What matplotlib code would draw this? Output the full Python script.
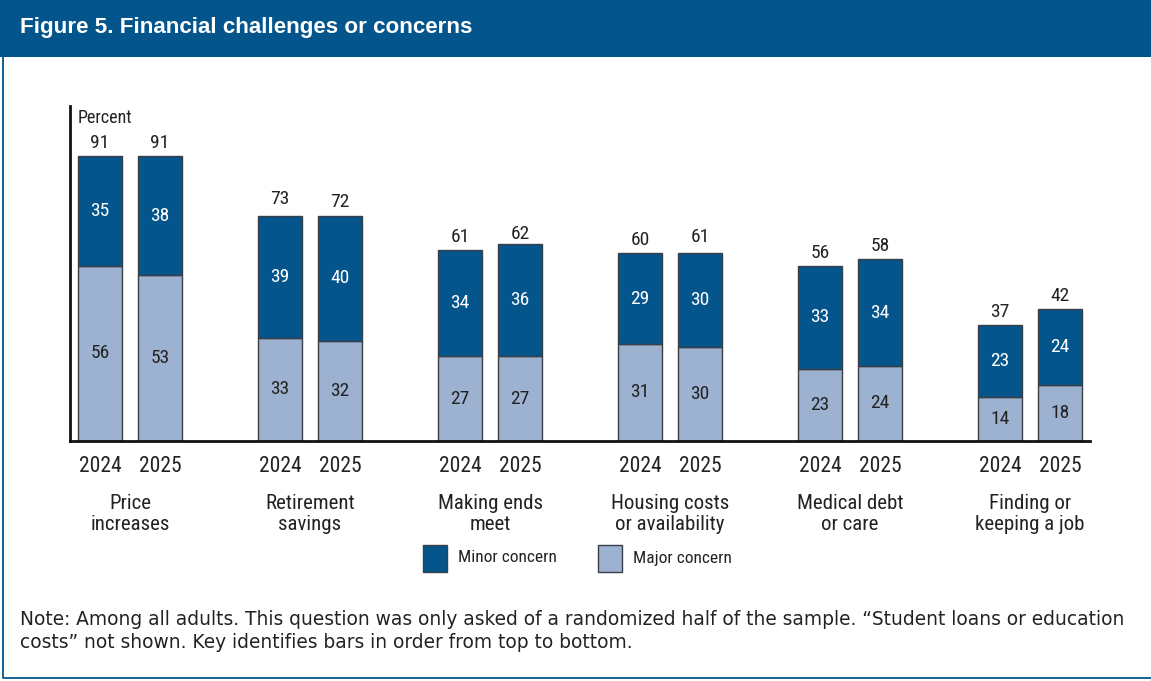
import numpy as np
import matplotlib
matplotlib.use("Agg")
import matplotlib.pyplot as plt
from matplotlib.patches import Rectangle
from matplotlib.lines import Line2D

plt.rcParams['font.family'] = ['Roboto Condensed', 'DejaVu Sans']

# ---- data ----
categories = ['Price\nincreases', 'Retirement\nsavings', 'Making ends\nmeet',
              'Housing costs\nor availability', 'Medical debt\nor care',
              'Finding or\nkeeping a job']
years = ['2024', '2025']
major_2024 = [56, 33, 27, 31, 23, 14]
major_2025 = [53, 32, 27, 30, 24, 18]
minor_2024 = [35, 39, 34, 29, 33, 23]
minor_2025 = [38, 40, 36, 30, 34, 24]
total_2024 = [91, 73, 61, 60, 56, 37]
total_2025 = [91, 72, 62, 61, 58, 42]

DARK = '#03558C'
LIGHT = '#9DB1D1'
EDGE = '#3a3f47'
TXT = '#222222'

W, H = 1151, 681
fig = plt.figure(figsize=(W / 100, H / 100), dpi=100)

# header band + frame (left and bottom edges)
fig.patches.append(Rectangle((0, 1 - 57 / H), 1, 57 / H, transform=fig.transFigure,
                             facecolor=DARK, edgecolor='none', zorder=0))
fig.lines.append(Line2D([3 / W, 3 / W, 1], [1 - 57 / H, 3 / H, 3 / H],
                        transform=fig.transFigure, color=DARK, lw=1.3))
fig.text(20 / W, 1 - 28 / H, 'Figure 5. Financial challenges or concerns',
         color='white', fontsize=16.1, fontweight='bold', va='center', ha='left',
         family=['Liberation Sans', 'DejaVu Sans'])

# plot area: x from 70 to 1090 px, baseline at y=441, top at y=106
left, right, base, top = 70, 1090, 441, 106
ax = fig.add_axes([left / W, 1 - base / H, (right - left) / W, (base - top) / H])
x0 = -0.5
x1 = x0 + (right - left) / 60
ax.set_xlim(x0, x1)
ymax = 91 * (base - top) / (base - 156)
ax.set_ylim(0, ymax)

pos_2024 = np.arange(len(categories)) * 3.0
pos_2025 = pos_2024 + 1
bw = 44 / 60

for pos, major, minor, total in [(pos_2024, major_2024, minor_2024, total_2024),
                                 (pos_2025, major_2025, minor_2025, total_2025)]:
    ax.bar(pos, major, bw, color=LIGHT, edgecolor=EDGE, linewidth=1, zorder=2)
    ax.bar(pos, minor, bw, bottom=major, color=DARK, edgecolor=EDGE, linewidth=1, zorder=2)
    for p, mj, mn, t in zip(pos, major, minor, total):
        ax.text(p, mj / 2, str(mj), ha='center', va='center', color=TXT, fontsize=14)
        ax.text(p, mj + mn / 2, str(mn), ha='center', va='center', color='white', fontsize=14)
        ax.text(p, t + 1.3, str(t), ha='center', va='bottom', color=TXT, fontsize=14)

for s in ['top', 'right']:
    ax.spines[s].set_visible(False)
ax.spines['left'].set_linewidth(2)
ax.spines['bottom'].set_linewidth(2)
ax.spines['left'].set_color('#111111')
ax.spines['bottom'].set_color('#111111')
ax.set_xticks([])
ax.set_yticks([])
fig.text((left + 8) / W, 1 - 118 / H, 'Percent', ha='left', va='center', color=TXT, fontsize=13)

# year and category labels under the axis
for i, cat in enumerate(categories):
    for p, yr in zip([pos_2024[i], pos_2025[i]], years):
        xf = (left + (p - x0) * 60) / W
        fig.text(xf, 1 - 467 / H, yr, ha='center', va='center', color=TXT, fontsize=15.5)
    xc = (left + (pos_2024[i] + 0.5 - x0) * 60) / W
    fig.text(xc, 1 - 514 / H, cat, ha='center', va='center', color=TXT, fontsize=15,
             linespacing=1.12)

# legend key
for sx, lab, col in [(423, 'Minor concern', DARK), (598, 'Major concern', LIGHT)]:
    fig.patches.append(Rectangle((sx / W, 1 - 572 / H), 24 / W, 27 / H,
                                 transform=fig.transFigure, facecolor=col,
                                 edgecolor=EDGE, lw=1))
    fig.text((sx + 35) / W, 1 - 558 / H, lab, ha='left', va='center', color=TXT, fontsize=12.5)

fig.text(20 / W, 1 - 631 / H,
         'Note: Among all adults. This question was only asked of a randomized half of the sample. '
         '\u201cStudent loans or education\ncosts\u201d not shown. Key identifies bars in order from top to bottom.',
         ha='left', va='center', color=TXT, fontsize=13.4, linespacing=1.3,
         family=['DejaVu Sans'])

fig.savefig('out.png', dpi=100, facecolor='white')
